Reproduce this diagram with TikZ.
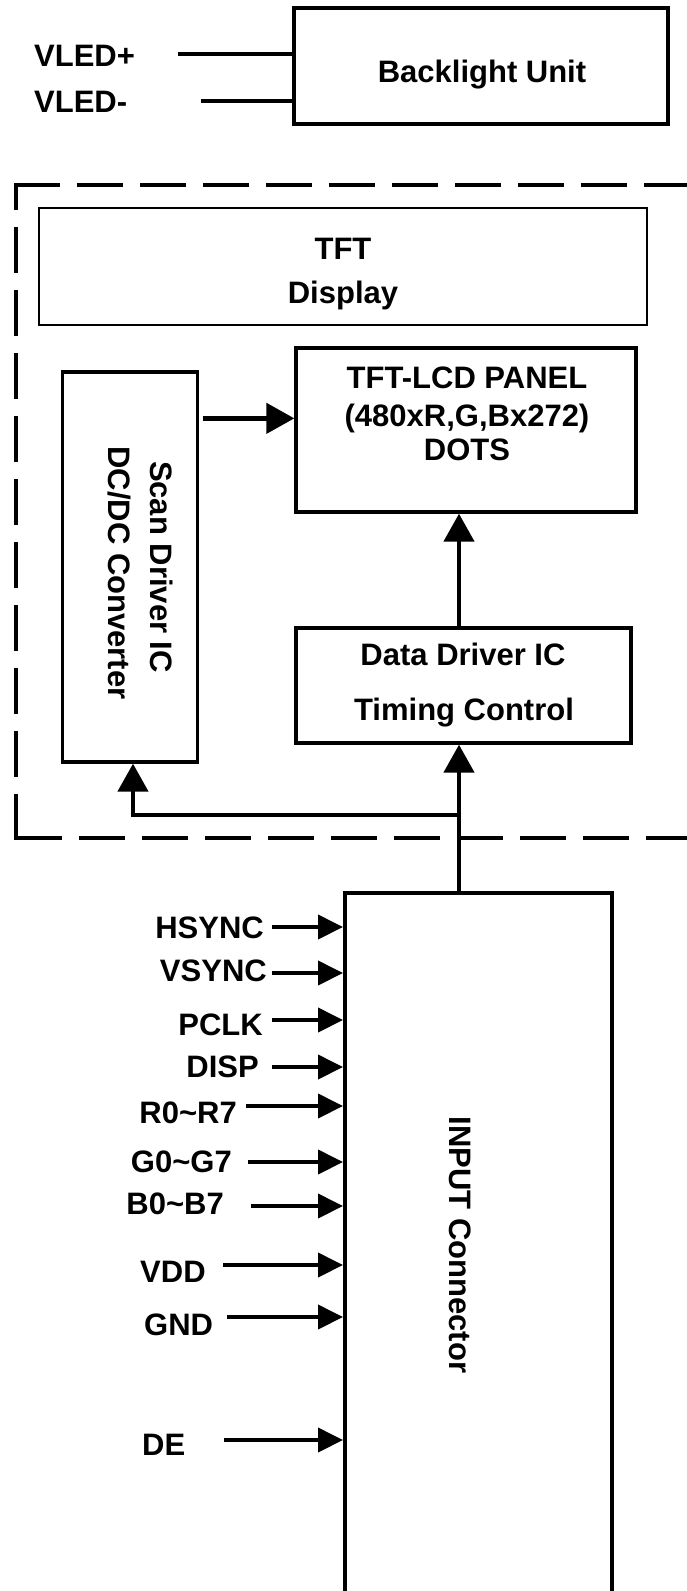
\documentclass[tikz,border=0pt]{standalone}
\usepackage{fontspec}
\setmainfont{Liberation Sans}
\usetikzlibrary{arrows.meta}
\begin{document}
\begin{tikzpicture}[x=1pt,y=-1pt,
  lbl/.style={font=\fontsize{31}{36}\selectfont\bfseries, inner sep=0pt},
  blk/.style={draw, line width=3.3pt, inner sep=0pt},
  wire/.style={line width=3.8pt},
  arr/.style={line width=4.5pt, -{Triangle[length=28pt,width=30pt]}},
  sig/.style={line width=4pt, -{Triangle[length=25pt,width=24pt]}},
  frame/.style={line width=4.5pt, dash pattern=on 46pt off 17pt}
]
\fill[white] (0,0) rectangle (686,1591);
\useasboundingbox (0,0) rectangle (686,1591);

% dashed module frame
\draw[frame] (16,840) -- (16,185);
\draw[frame] (13.75,185) -- (720,185);
\draw[frame] (16,838) -- (720,838);

% blocks
\node[blk, minimum width=374pt, minimum height=116pt] (bl) at (481,66) {};
\node[blk, line width=1.6pt, minimum width=608pt, minimum height=117pt] (tft) at (343,266.5) {};
\node[blk, minimum width=340pt, minimum height=164pt] (panel) at (466,430) {};
\node[blk, minimum width=135pt, minimum height=390pt] (scan) at (130,567) {};
\node[blk, minimum width=335pt, minimum height=115pt] (data) at (463.5,685.5) {};
\node[blk, line width=4pt, minimum width=267pt, minimum height=757pt] (conn) at (478.5,1271.5) {};

% block texts
\node[lbl, anchor=base] (bltxt) at (482,82) {Backlight Unit};
\node[lbl, anchor=base] (tfttxt) at (343,259) {TFT};
\node[lbl, anchor=base] (disptxt) at (343,303) {Display};
\node[lbl, anchor=base] (p1) at (467,388) {TFT-LCD PANEL};
\node[lbl, anchor=base] (p2) at (467,426) {(480xR,G,Bx272)};
\node[lbl, anchor=base] (p3) at (467,460) {DOTS};
\node[lbl, anchor=base] (d1) at (463,665) {Data Driver IC};
\node[lbl, anchor=base] (d2) at (464,720) {Timing Control};
\node[lbl, anchor=base, rotate=-90] (s1) at (150,567) {Scan Driver IC};
\node[lbl, anchor=base, rotate=-90] (s2) at (108,573) {DC/DC Converter};
\node[lbl, anchor=base, rotate=-90] (c1) at (449,1245) {INPUT Connector};

% backlight supply
\node[lbl, anchor=base west] (vledp) at (34,66) {VLED+};
\node[lbl, anchor=base west] (vledm) at (34,112) {VLED-};
\coordinate (vp) at (178,54);
\coordinate (vm) at (201,101);
\draw[wire] (vp) -- (vp -| bl.west);
\draw[wire] (vm) -- (vm -| bl.west);

% internal connections
\coordinate (bus) at (459,815);
\coordinate (scx) at (133,815);
\path (scan.north east) ++(0,48) coordinate (sp);
\draw[arr, shorten <=3.5pt] (sp) -- (sp -| panel.west);
\draw[arr] (data.north -| bus) -- (panel.south -| bus);
\draw[arr] (conn.north -| bus) -- (data.south -| bus);
\draw[arr] (bus) -| (scan.south -| scx);

% input signals
\node[lbl, anchor=east] (hs) at (264,928) {HSYNC};
\coordinate (hsa) at (272,927);
\draw[sig] (hsa) -- (hsa -| conn.west);
\node[lbl, anchor=east] (vs) at (267,971) {VSYNC};
\coordinate (vsa) at (272,973);
\draw[sig] (vsa) -- (vsa -| conn.west);
\node[lbl, anchor=east] (pc) at (263,1025) {PCLK};
\coordinate (pca) at (272,1020);
\draw[sig] (pca) -- (pca -| conn.west);
\node[lbl, anchor=east] (di) at (259,1067) {DISP};
\coordinate (dia) at (272,1067);
\draw[sig] (dia) -- (dia -| conn.west);
\node[lbl, anchor=east] (rr) at (237,1113) {R0\textasciitilde R7};
\coordinate (rra) at (246,1106);
\draw[sig] (rra) -- (rra -| conn.west);
\node[lbl, anchor=east] (gg) at (232,1162) {G0\textasciitilde G7};
\coordinate (gga) at (248,1162);
\draw[sig] (gga) -- (gga -| conn.west);
\node[lbl, anchor=east] (bb) at (224,1204) {B0\textasciitilde B7};
\coordinate (bba) at (251,1206);
\draw[sig] (bba) -- (bba -| conn.west);
\node[lbl, anchor=west] (vdd) at (140,1272) {VDD};
\coordinate (vdda) at (223,1265);
\draw[sig] (vdda) -- (vdda -| conn.west);
\node[lbl, anchor=west] (gnd) at (144,1325) {GND};
\coordinate (gnda) at (227,1317);
\draw[sig] (gnda) -- (gnda -| conn.west);
\node[lbl, anchor=west] (de) at (142,1445) {DE};
\coordinate (dea) at (224,1440);
\draw[sig] (dea) -- (dea -| conn.west);
\end{tikzpicture}
\end{document}
